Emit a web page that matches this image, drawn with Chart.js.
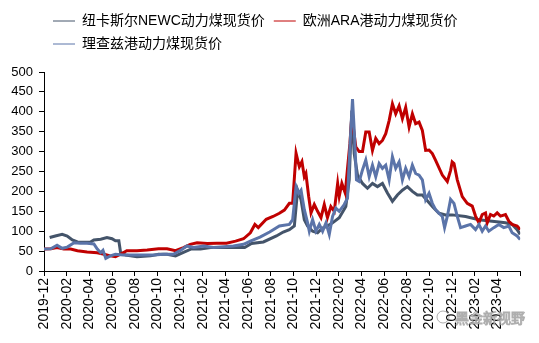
<!DOCTYPE html>
<html>
<head>
<meta charset="utf-8">
<script src="https://cdn.jsdelivr.net/npm/chart.js@4.4.1/dist/chart.umd.min.js"></script>
<style>
  body { margin: 0; background: #fff; }
  canvas { display: block; }
</style>
</head>
<body>
<canvas id="chart" width="539" height="343"></canvas>
<script>
// x values are months counted from 2019-12
const xTickLabels = ['2019-12', '2020-02', '2020-04', '2020-06', '2020-08', '2020-10', '2020-12',
    '2021-02', '2021-04', '2021-06', '2021-08', '2021-10', '2021-12',
    '2022-02', '2022-04', '2022-06', '2022-08', '2022-10', '2022-12',
    '2023-02', '2023-04'];

const seriesNames = ['纽卡斯尔NEWC动力煤现货价', '欧洲ARA港动力煤现货价', '理查兹港动力煤现货价'];

const newcMonths = [0.5, 1.0, 1.6, 2.05, 2.5, 2.95, 3.5, 4.1, 4.4, 5.0, 5.55, 6.0, 6.3, 6.6, 6.75, 7.2, 8.2, 9.4,
    10.1, 10.85, 11.6, 12.3, 13.05, 13.8, 14.7, 15.8, 17.0, 17.7, 18.3, 19.35, 20.5, 21.1, 21.64, 22.08,
    22.37, 22.67, 22.96, 23.25, 23.69, 24.13, 24.57, 25.0, 25.45, 26.04, 26.62, 26.92, 27.15, 27.36,
    27.65, 28.09, 28.53, 28.97, 29.41, 29.85, 30.29, 30.73, 31.17, 31.61, 32.05, 32.49, 32.93, 33.37,
    34.25, 34.84, 35.42, 36.0, 37.18, 38.36, 39.53, 40.7, 41.29, 41.73, 42.0];
const newcPrices = [84, 88, 92, 88, 78, 73, 72, 73, 78, 80, 84, 81, 76, 76, 47, 40, 36, 38,
    42, 42, 38, 47, 56, 55, 59, 59, 59, 59, 69, 73, 88, 98, 104, 113,
    203, 179, 129, 113, 100, 96, 108, 113, 121, 134, 162, 229, 403, 295,
    241, 220, 208, 220, 212, 220, 196, 175, 191, 203, 212, 200, 191, 191,
    162, 145, 141, 141, 137, 129, 125, 121, 117, 104, 92];

const araMonths = [0, 0.6, 1.15, 1.75, 2.35, 2.95, 3.8, 4.7, 5.3, 5.85, 6.3, 6.75, 7.3, 8.2, 9.1, 10.1, 10.85,
    11.6, 12.3, 12.9, 13.5, 14.4, 15.25, 16.1, 16.9, 17.6, 18.2, 18.6, 18.9, 19.6, 20.2, 20.76, 21.2,
    21.64, 21.93, 22.23, 22.37, 22.52, 22.75, 22.96, 23.1, 23.34, 23.55, 23.84, 24.13, 24.43, 24.72,
    25.0, 25.3, 25.6, 25.9, 26.04, 26.27, 26.57, 26.77, 26.98, 27.15, 27.5, 27.8, 28.09, 28.38, 28.68,
    28.97, 29.26, 29.56, 29.85, 30.14, 30.44, 30.73, 31.02, 31.32, 31.61, 31.9, 32.2, 32.49, 32.78,
    33.08, 33.37, 33.66, 33.96, 34.25, 34.54, 35.13, 35.57, 35.86, 36.0, 36.16, 36.45, 36.89, 37.33,
    37.77, 38.06, 38.36, 38.65, 38.94, 39.09, 39.38, 39.67, 39.97, 40.26, 40.7, 41.0, 41.29, 41.73, 42.0];
const araPrices = [55, 56, 59, 55, 55, 51, 48, 46, 42, 38, 36, 42, 51, 51, 53, 56, 56,
    51, 59, 67, 71, 69, 70, 70, 75, 81, 96, 117, 109, 130, 137, 145, 153,
    170, 170, 296, 279, 262, 275, 237, 245, 188, 146, 167, 150, 134, 167,
    134, 162, 150, 220, 188, 220, 196, 258, 320, 390, 312, 300, 300, 349, 349,
    303, 333, 320, 328, 345, 378, 420, 395, 415, 383, 411, 362, 395, 370,
    374, 353, 303, 304, 295, 278, 241, 225, 253, 274, 270, 229, 187, 170,
    163, 138, 121, 142, 146, 121, 142, 138, 146, 138, 142, 125, 117, 113, 104];

const rbMonths = [0, 0.6, 1.15, 1.6, 2.05, 2.65, 3.2, 3.8, 4.4, 4.7, 5.0, 5.2, 5.45, 5.85, 6.3, 7.0, 8.2, 9.7,
    10.55, 11.4, 12.0, 12.6, 13.2, 14.1, 14.95, 15.85, 16.7, 17.6, 18.2, 19.05, 19.9, 20.76, 21.64,
    21.93, 22.23, 22.46, 22.67, 22.96, 23.25, 23.4, 23.69, 23.99, 24.28, 24.57, 24.87, 25.16, 25.45,
    25.74, 26.04, 26.48, 26.77, 26.98, 27.21, 27.36, 27.56, 27.8, 28.09, 28.38, 28.68, 28.97, 29.26,
    29.56, 29.85, 30.14, 30.44, 30.73, 31.02, 31.32, 31.61, 31.9, 32.2, 32.49, 32.78, 33.08, 33.37,
    33.66, 33.96, 34.25, 34.54, 34.84, 35.13, 35.33, 35.57, 35.86, 36.16, 36.45, 36.74, 37.18, 37.62,
    38.06, 38.36, 38.65, 38.94, 39.23, 39.67, 40.11, 40.55, 41.0, 41.29, 41.73, 42.0];
const rbPrices = [55, 56, 65, 57, 60, 71, 70, 70, 68, 55, 46, 52, 32, 38, 42, 40, 40, 40,
    42, 42, 51, 63, 59, 63, 59, 61, 63, 67, 75, 85, 98, 113, 117,
    129, 212, 195, 203, 154, 121, 100, 129, 100, 117, 100, 121, 92, 137,
    158, 150, 167, 183, 312, 432, 354, 229, 225, 254, 279, 237, 266, 237,
    270, 258, 266, 229, 287, 258, 274, 229, 258, 237, 266, 245, 241, 229,
    179, 195, 170, 154, 145, 137, 109, 137, 180, 170, 137, 109, 113, 117,
    104, 117, 100, 113, 100, 109, 117, 109, 113, 96, 88, 79];

const colors = ['#44546A', '#C00000', '#5B74A9'];

function toPoints(months, prices) {
    return months.map((m, i) => ({ x: m, y: prices[i] }));
}

// push the plot area down a bit below the legend
const legendGap = {
    id: 'legendGap',
    beforeInit(chart) {
        const fit = chart.legend.fit;
        chart.legend.fit = function () {
            fit.bind(chart.legend)();
            this.height += 11;
        };
    }
};

const watermark = {
    id: 'watermark',
    afterDraw(chart) {
        const ctx = chart.ctx;
        ctx.save();
        ctx.strokeStyle = 'rgba(120,120,120,0.6)';
        ctx.lineWidth = 1;
        ctx.beginPath();
        ctx.arc(443, 317, 6, 0, Math.PI * 2);
        ctx.stroke();
        ctx.font = '14px "Noto Sans CJK SC"';
        ctx.textBaseline = 'middle';
        ctx.fillStyle = 'rgba(255,255,255,0.85)';
        ctx.fillText('黑金新视野', 455, 318);
        ctx.strokeText('黑金新视野', 455, 318);
        ctx.restore();
    }
};

Chart.defaults.font.family = '"Liberation Sans", "Noto Sans CJK SC", Arial, sans-serif';
Chart.defaults.color = '#000';

const ctx = document.getElementById('chart').getContext('2d');
new Chart(ctx, {
    type: 'line',
    data: {
        datasets: [
            { label: seriesNames[0], data: toPoints(newcMonths, newcPrices), borderColor: colors[0], backgroundColor: colors[0], order: 3 },
            { label: seriesNames[1], data: toPoints(araMonths, araPrices), borderColor: colors[1], backgroundColor: colors[1], order: 2 },
            { label: seriesNames[2], data: toPoints(rbMonths, rbPrices), borderColor: colors[2], backgroundColor: colors[2], order: 1 }
        ]
    },
    options: {
        responsive: false,
        animation: false,
        devicePixelRatio: 1,
        layout: { padding: { top: 5, right: 17, left: 0, bottom: 0 } },
        elements: {
            line: { borderWidth: 3, tension: 0 },
            point: { radius: 0 }
        },
        plugins: {
            tooltip: { enabled: false },
            legend: {
                position: 'top',
                align: 'start',
                fullSize: false,
                labels: {
                    usePointStyle: true,
                    pointStyle: 'line',
                    pointStyleWidth: 22,
                    padding: 9,
                    font: { size: 14 },
                    sort: (a, b) => a.datasetIndex - b.datasetIndex
                }
            }
        },
        scales: {
            x: {
                type: 'linear',
                min: 0,
                max: 42,
                afterFit: scale => { scale.height = 72; },
                border: { display: true, color: '#000', width: 1 },
                grid: { display: true, drawOnChartArea: false, drawTicks: true, tickLength: 5, color: '#000' },
                ticks: {
                    stepSize: 2,
                    autoSkip: false,
                    maxRotation: 90,
                    minRotation: 90,
                    padding: 2,
                    font: { size: 14 },
                    callback: value => xTickLabels[value / 2] || ''
                }
            },
            y: {
                min: 0,
                max: 500,
                afterFit: scale => { scale.width = 44; },
                border: { display: true, color: '#000', width: 1 },
                grid: { display: true, drawOnChartArea: false, drawTicks: true, tickLength: 5, color: '#000' },
                ticks: { stepSize: 50, padding: 6, font: { size: 13 } }
            }
        }
    },
    plugins: [legendGap, watermark]
});
</script>
</body>
</html>
